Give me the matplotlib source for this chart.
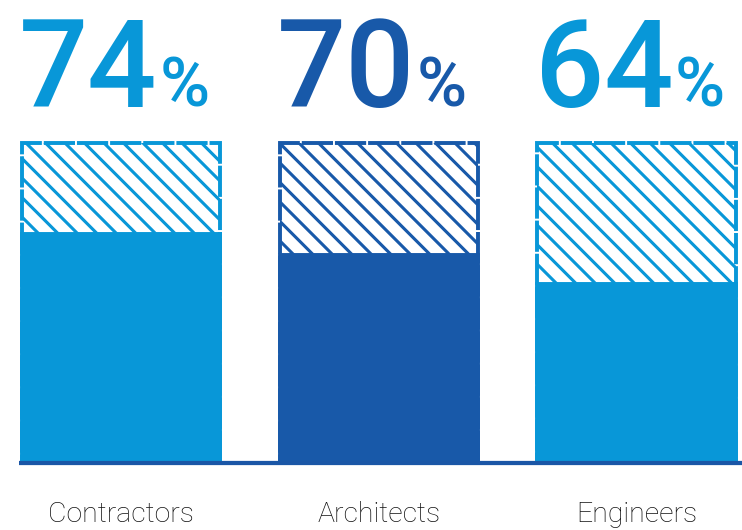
import matplotlib.pyplot as plt

categories = ['Contractors', 'Architects', 'Engineers']
percents = [74, 70, 64]
fill_heights = [71.4, 64.9, 55.9]   # solid part of each bar, out of 100
colors = ['#0897d8', '#1859a9', '#0897d8']

DPI = 117
plt.rcParams['hatch.linewidth'] = 1.9

fig = plt.figure(figsize=(742.5 / DPI, 530.5 / DPI), dpi=DPI)
ax = fig.add_axes([0, 0, 1, 1])
ax.set_xlim(-0.47, 2.412)
ax.set_ylim(-20.9, 144.7)
ax.axis('off')

x = list(range(len(categories)))
w = 0.77

# hatched "100%" outline bars
ax.bar(x, [100] * 3, width=w, color='none', edgecolor=colors, hatch='\\\\',
       linewidth=2.4, linestyle=(0, (8, 0.5)), zorder=1)
# solid part
ax.bar(x, fill_heights, width=w, color=colors, edgecolor=colors, linewidth=2.4, zorder=2)

# baseline
ax.plot([-w / 2 - 0.01, 2.412], [0, 0], color='#1a56a6', linewidth=2.6,
        solid_capstyle='butt', zorder=3)

for xi, p, c, name in zip(x, percents, colors, categories):
    t = ax.text(xi - w / 2 - 0.01, 111.3, str(p), color=c, fontsize=75,
                fontfamily='Roboto', fontweight='medium', ha='left', va='baseline')
    ax.annotate('%', xy=(1, 111.3), xycoords=(t, 'data'), xytext=(1, 0),
                textcoords='offset points', color=c, fontsize=42,
                fontfamily='Roboto', fontweight='medium', ha='left', va='baseline')
    ax.text(xi, -18.3, name, color='#111111', fontsize=17.5, fontfamily='Roboto',
            fontweight='light', ha='center', va='baseline')

fig.savefig('out.png', dpi=DPI)
